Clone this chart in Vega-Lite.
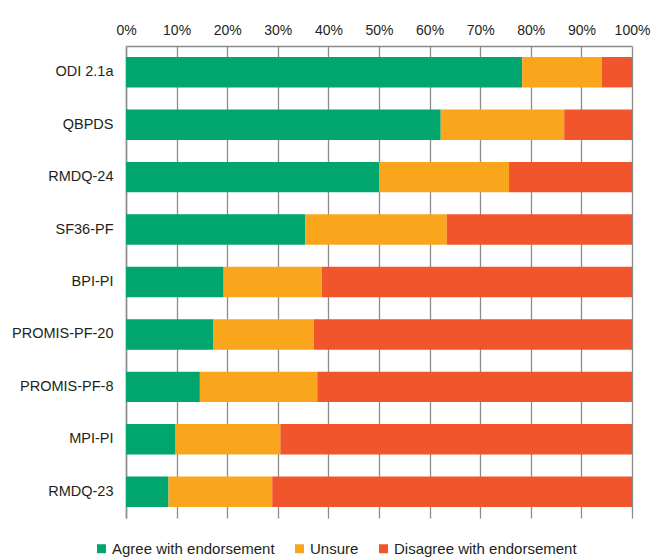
{
  "$schema": "https://vega.github.io/schema/vega-lite/v6.json",
  "autosize": {"type": "none"},
  "padding": {"left": 126, "top": 46, "right": 19, "bottom": 39},
  "width": 506,
  "height": 472,
  "data": {
    "values": [
      {"measure": "ODI 2.1a", "response": "Agree with endorsement", "k": 1, "pct": 78.3},
      {"measure": "ODI 2.1a", "response": "Unsure", "k": 2, "pct": 15.7},
      {"measure": "ODI 2.1a", "response": "Disagree with endorsement", "k": 3, "pct": 6.0},
      {"measure": "QBPDS", "response": "Agree with endorsement", "k": 1, "pct": 62.2},
      {"measure": "QBPDS", "response": "Unsure", "k": 2, "pct": 24.4},
      {"measure": "QBPDS", "response": "Disagree with endorsement", "k": 3, "pct": 13.4},
      {"measure": "RMDQ-24", "response": "Agree with endorsement", "k": 1, "pct": 50.0},
      {"measure": "RMDQ-24", "response": "Unsure", "k": 2, "pct": 25.7},
      {"measure": "RMDQ-24", "response": "Disagree with endorsement", "k": 3, "pct": 24.3},
      {"measure": "SF36-PF", "response": "Agree with endorsement", "k": 1, "pct": 35.4},
      {"measure": "SF36-PF", "response": "Unsure", "k": 2, "pct": 28.0},
      {"measure": "SF36-PF", "response": "Disagree with endorsement", "k": 3, "pct": 36.6},
      {"measure": "BPI-PI", "response": "Agree with endorsement", "k": 1, "pct": 19.3},
      {"measure": "BPI-PI", "response": "Unsure", "k": 2, "pct": 19.4},
      {"measure": "BPI-PI", "response": "Disagree with endorsement", "k": 3, "pct": 61.3},
      {"measure": "PROMIS-PF-20", "response": "Agree with endorsement", "k": 1, "pct": 17.3},
      {"measure": "PROMIS-PF-20", "response": "Unsure", "k": 2, "pct": 19.8},
      {"measure": "PROMIS-PF-20", "response": "Disagree with endorsement", "k": 3, "pct": 62.9},
      {"measure": "PROMIS-PF-8", "response": "Agree with endorsement", "k": 1, "pct": 14.6},
      {"measure": "PROMIS-PF-8", "response": "Unsure", "k": 2, "pct": 23.2},
      {"measure": "PROMIS-PF-8", "response": "Disagree with endorsement", "k": 3, "pct": 62.2},
      {"measure": "MPI-PI", "response": "Agree with endorsement", "k": 1, "pct": 9.8},
      {"measure": "MPI-PI", "response": "Unsure", "k": 2, "pct": 20.7},
      {"measure": "MPI-PI", "response": "Disagree with endorsement", "k": 3, "pct": 69.5},
      {"measure": "RMDQ-23", "response": "Agree with endorsement", "k": 1, "pct": 8.4},
      {"measure": "RMDQ-23", "response": "Unsure", "k": 2, "pct": 20.5},
      {"measure": "RMDQ-23", "response": "Disagree with endorsement", "k": 3, "pct": 71.1}
    ]
  },
  "mark": {"type": "bar"},
  "encoding": {
    "y": {
      "field": "measure",
      "type": "nominal",
      "sort": null,
      "scale": {"paddingInner": 0.42, "paddingOuter": 0.21},
      "axis": {
        "title": null,
        "ticks": false,
        "labelPadding": 13,
        "labelFontSize": 14.5,
        "domainColor": "#8c8c8c",
        "domainWidth": 1.5
      }
    },
    "x": {
      "field": "pct",
      "type": "quantitative",
      "stack": "zero",
      "scale": {"domain": [0, 100], "nice": false},
      "axis": {
        "orient": "top",
        "title": null,
        "values": [0, 10, 20, 30, 40, 50, 60, 70, 80, 90, 100],
        "labelExpr": "datum.value + '%'",
        "ticks": false,
        "labelPadding": 9,
        "labelFontSize": 14,
        "grid": true,
        "gridColor": "#8c8c8c",
        "gridWidth": 1.3,
        "gridOpacity": 1,
        "domainColor": "#8c8c8c",
        "domainWidth": 1.5,
        "labelFlush": false
      }
    },
    "color": {
      "field": "response",
      "type": "nominal",
      "sort": ["Agree with endorsement", "Unsure", "Disagree with endorsement"],
      "scale": {
        "domain": ["Agree with endorsement", "Unsure", "Disagree with endorsement"],
        "range": ["#00a66e", "#faa61d", "#f0552b"]
      },
      "legend": {
        "title": null,
        "orient": "none",
        "direction": "horizontal",
        "legendX": -32,
        "legendY": 495,
        "symbolType": "square",
        "symbolSize": 81,
        "symbolStrokeWidth": 0,
        "labelOffset": 3,
        "labelFontSize": 15,
        "labelLimit": 300,
        "columnPadding": 17
      }
    },
    "order": {"field": "k", "type": "quantitative"}
  },
  "config": {
    "font": "Liberation Sans",
    "view": {"stroke": null},
    "axis": {"labelColor": "#231f20", "labelFont": "Liberation Sans"},
    "legend": {"labelColor": "#231f20", "labelFont": "Liberation Sans"}
  }
}
